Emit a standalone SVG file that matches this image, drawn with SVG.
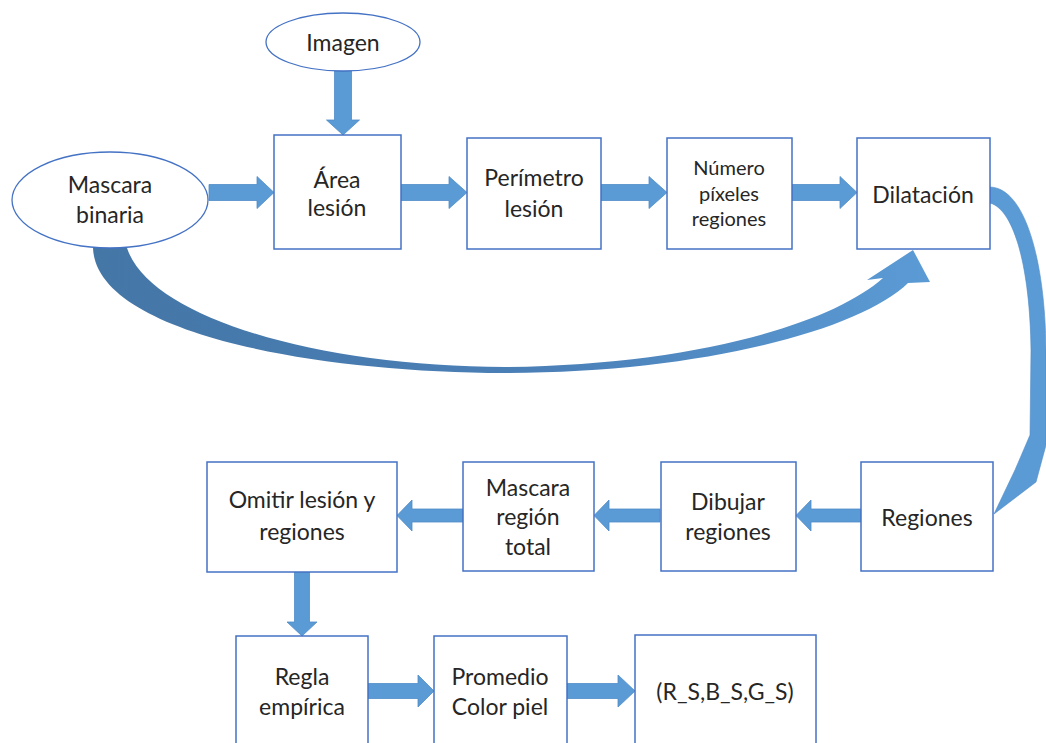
<svg xmlns="http://www.w3.org/2000/svg" width="1046" height="743" viewBox="0 0 1046 743">
  <style>
    .box { fill: #ffffff; stroke: #4472c4; stroke-width: 1.5; }
    .oval { fill: #ffffff; stroke: #4472c4; stroke-width: 1.3; }
    .arr { fill: #5b9bd5; stroke: #4f8cc7; stroke-width: 0.8; stroke-linejoin: miter; }
    .lbl { font-family: Lato, "Liberation Sans", sans-serif; font-size: 23px; fill: #262626; text-anchor: middle; }
    .sm { font-size: 20px; }
  </style>
  <defs>
    <linearGradient id="loopShade" gradientUnits="userSpaceOnUse" x1="93" y1="0" x2="930" y2="0">
      <stop offset="0" stop-color="#4476a6"/>
      <stop offset="0.55" stop-color="#4b80b8"/>
      <stop offset="1" stop-color="#5b9bd5"/>
    </linearGradient>
  </defs>
  <rect width="1046" height="743" fill="#ffffff"/>

  <g id="connectors">
    <!-- Imagen down into Área lesión -->
    <polygon class="arr" points="334.5,71 351.5,71 351.5,120 359.5,120 343,135 326.5,120 334.5,120"/>
    <!-- top row, left to right -->
    <polygon class="arr" points="209,184.5 257,184.5 257,176.5 274,192.5 257,208.5 257,200.5 209,200.5"/>
    <polygon class="arr" points="401,184.5 449,184.5 449,176.5 467,192.5 449,208.5 449,200.5 401,200.5"/>
    <polygon class="arr" points="601,184.5 649,184.5 649,176.5 667,192.5 649,208.5 649,200.5 601,200.5"/>
    <polygon class="arr" points="792,184.5 840,184.5 840,176.5 857,192.5 840,208.5 840,200.5 792,200.5"/>
    <!-- loop from Mascara binaria back up to Dilatación -->
    <path fill="url(#loopShade)" d="M 93 248 C 96 330, 300 372, 505 373 C 700 373, 860 330, 908 283 L 930 282 L 913 250 L 867 280 L 883 278 C 830 325, 690 365, 505 367 C 320 367, 150 318, 127 248 Z"/>
    <!-- Dilatación around the right side down to Regiones -->
    <path fill="#5b9bd5" stroke="#4f8cc7" stroke-width="0.6" d="M 990 187 C 1025 188, 1045 260, 1046 350 L 1046 445 L 1036 482 L 994 514 L 1015 470 L 1030 435 L 1031 350 C 1030 270, 1015 210, 990 203 Z"/>
    <!-- bottom row, right to left -->
    <polygon class="arr" points="861,509 811,509 811,500 796,515.5 811,531 811,522 861,522"/>
    <polygon class="arr" points="660,509 609,509 609,500 594,515.5 609,531 609,522 660,522"/>
    <polygon class="arr" points="463,509 412,509 412,500 397,515.5 412,531 412,522 463,522"/>
    <!-- Omitir down into Regla empírica -->
    <polygon class="arr" points="294.5,572 309.5,572 309.5,622 317,622 302,636 287,622 294.5,622"/>
    <!-- last row, left to right -->
    <polygon class="arr" points="368,683.5 418,683.5 418,675 434,691 418,707 418,698.5 368,698.5"/>
    <polygon class="arr" points="567,683.5 618,683.5 618,675 635,691 618,707 618,698.5 567,698.5"/>
  </g>

  <g id="imagen">
    <ellipse class="oval" cx="343" cy="42" rx="77" ry="29"/>
    <text class="lbl" x="343" y="51">Imagen</text>
  </g>
  <g id="mascara-binaria">
    <ellipse class="oval" cx="110" cy="200" rx="98" ry="48"/>
    <text class="lbl" x="110" y="193">Mascara</text>
    <text class="lbl" x="110" y="223">binaria</text>
  </g>
  <g id="area-lesion">
    <rect class="box" x="274" y="135" width="127" height="114"/>
    <text class="lbl" x="337" y="188">Área</text>
    <text class="lbl" x="337" y="216">lesión</text>
  </g>
  <g id="perimetro-lesion">
    <rect class="box" x="467" y="138" width="134" height="111"/>
    <text class="lbl" x="534" y="186">Perímetro</text>
    <text class="lbl" x="534" y="217">lesión</text>
  </g>
  <g id="numero-pixeles">
    <rect class="box" x="667" y="138" width="125" height="111"/>
    <text class="lbl sm" x="729" y="175">Número</text>
    <text class="lbl sm" x="729" y="201">píxeles</text>
    <text class="lbl sm" x="729" y="226">regiones</text>
  </g>
  <g id="dilatacion">
    <rect class="box" x="857" y="138" width="133" height="111"/>
    <text class="lbl" x="923" y="203">Dilatación</text>
  </g>
  <g id="regiones">
    <rect class="box" x="861" y="462" width="132" height="109"/>
    <text class="lbl" x="927" y="526">Regiones</text>
  </g>
  <g id="dibujar-regiones">
    <rect class="box" x="661" y="462" width="135" height="109"/>
    <text class="lbl" x="728" y="510">Dibujar</text>
    <text class="lbl" x="728" y="540">regiones</text>
  </g>
  <g id="mascara-region-total">
    <rect class="box" x="463" y="462" width="131" height="109"/>
    <text class="lbl" x="528" y="496">Mascara</text>
    <text class="lbl" x="528" y="525">región</text>
    <text class="lbl" x="528" y="555">total</text>
  </g>
  <g id="omitir-lesion">
    <rect class="box" x="207" y="462" width="190" height="110"/>
    <text class="lbl" x="302" y="508">Omitir lesión y</text>
    <text class="lbl" x="302" y="540">regiones</text>
  </g>
  <g id="regla-empirica">
    <rect class="box" x="236" y="636" width="132" height="120"/>
    <text class="lbl" x="302" y="685">Regla</text>
    <text class="lbl" x="302" y="715">empírica</text>
  </g>
  <g id="promedio-color">
    <rect class="box" x="434" y="636" width="133" height="120"/>
    <text class="lbl" x="500" y="685">Promedio</text>
    <text class="lbl" x="500" y="715">Color piel</text>
  </g>
  <g id="rgb-salida">
    <rect class="box" x="635" y="635" width="181" height="121"/>
    <text class="lbl" x="725" y="700">(R_S,B_S,G_S)</text>
  </g>
</svg>
